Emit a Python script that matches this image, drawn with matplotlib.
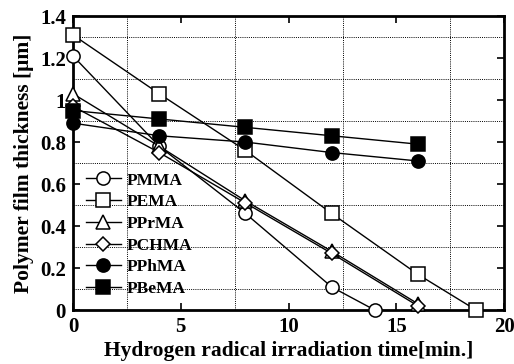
import matplotlib
matplotlib.use("Agg")
import matplotlib.pyplot as plt
from matplotlib.ticker import MultipleLocator

plt.rcParams["font.family"] = ["Liberation Serif", "DejaVu Serif"]
plt.rcParams["font.weight"] = "bold"

# data
t_pmma = [0, 4, 8, 12, 14]
pmma = [1.21, 0.78, 0.46, 0.11, 0.0]
t_pema = [0, 4, 8, 12, 16, 18.7]
pema = [1.31, 1.03, 0.76, 0.46, 0.17, 0.0]
t_std = [0, 4, 8, 12, 16]
pprma = [1.03, 0.78, 0.52, 0.28, 0.03]
pchma = [0.97, 0.75, 0.51, 0.27, 0.02]
pphma = [0.89, 0.83, 0.80, 0.75, 0.71]
pbema = [0.95, 0.91, 0.87, 0.83, 0.79]

series = [
    ("PMMA", t_pmma, pmma, "o", "white"),
    ("PEMA", t_pema, pema, "s", "white"),
    ("PPrMA", t_std, pprma, "^", "white"),
    ("PCHMA", t_std, pchma, "D", "white"),
    ("PPhMA", t_std, pphma, "o", "black"),
    ("PBeMA", t_std, pbema, "s", "black"),
]

fig = plt.figure(figsize=(5.14, 3.64), dpi=100)
ax = fig.add_axes([0.142, 0.148, 0.839, 0.808])

for name, x, y, m, fc in series:
    ms = 7.5 if m == "D" else 9.5
    ax.plot(x, y, color="black", lw=1.0, marker=m, ms=ms,
            mfc=fc, mec="black", mew=1.1, label=name, clip_on=False, zorder=3)

ax.set_xlim(0, 20)
ax.set_ylim(0, 1.4)
ax.xaxis.set_major_locator(MultipleLocator(5))
ax.xaxis.set_minor_locator(MultipleLocator(2.5))
ax.set_yticks([0.1, 0.3, 0.5, 0.7, 0.9, 1.1, 1.3], minor=True)
ax.set_yticks([0, 0.2, 0.4, 0.6, 0.8, 1.0, 1.2, 1.4])
ax.set_yticklabels(["0", "0.2", "0.4", "0.6", "0.8", "1", "1.2", "1.4"])
ax.grid(which="minor", ls=(0, (1.0, 1.2)), color="black", lw=0.7)
ax.tick_params(which="major", direction="in", length=5, width=1.2,
               top=True, right=True, labelsize=15, pad=5)
ax.tick_params(which="minor", length=0)
for lab in ax.get_xticklabels() + ax.get_yticklabels():
    lab.set_fontweight("bold")
for sp in ax.spines.values():
    sp.set_linewidth(2)

ax.set_xlabel("Hydrogen radical irradiation time[min.]", fontsize=15.5,
              fontweight="bold", labelpad=3)
ax.set_ylabel("Polymer film thickness [\u03bcm]", fontsize=15.5,
              fontweight="bold", labelpad=4)

leg = ax.legend(loc="lower left", bbox_to_anchor=(0.0, 0.0), frameon=False,
                fontsize=12.5, handlelength=2.0, labelspacing=0.32,
                borderaxespad=0.35, handletextpad=0.35)
for t in leg.get_texts():
    t.set_fontweight("bold")

fig.savefig("out.png", dpi=100)
